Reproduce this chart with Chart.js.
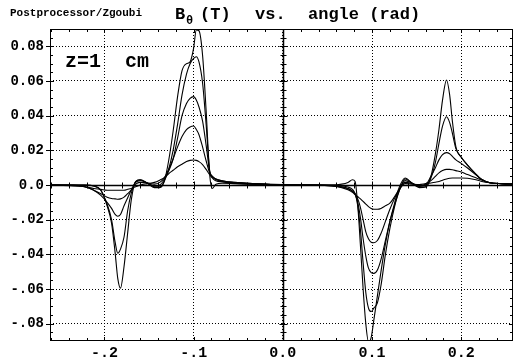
<!DOCTYPE html>
<html>
<head>
<meta charset="utf-8">
<script src="https://cdn.jsdelivr.net/npm/chart.js@4.4.1/dist/chart.umd.min.js"></script>
<style>
    html, body { margin: 0; padding: 0; background: #fff; }
</style>
</head>
<body>
<canvas id="bChart" width="515" height="362"></canvas>
<script>
const angle = [-0.26, -0.235, -0.222, -0.212, -0.204, -0.197, -0.192, -0.188, -0.185, -0.182,
    -0.178, -0.174, -0.17, -0.165, -0.16, -0.152, -0.144, -0.138, -0.133, -0.128,
    -0.123, -0.118, -0.113, -0.108, -0.104, -0.1, -0.097, -0.094, -0.09, -0.086,
    -0.082, -0.079, -0.075, -0.068, -0.055, -0.04, -0.02, 0, 0.03, 0.055,
    0.066, 0.073, 0.078, 0.081, 0.084, 0.087, 0.09, 0.093, 0.096, 0.099,
    0.102, 0.106, 0.11, 0.115, 0.12, 0.125, 0.13, 0.137, 0.145, 0.153,
    0.16, 0.166, 0.171, 0.175, 0.179, 0.1835, 0.187, 0.19, 0.194, 0.2,
    0.207, 0.215, 0.222, 0.232, 0.245, 0.26];

const curve1 = [0, 0, 0, -0.0005, -0.003, -0.012, -0.022, -0.039, -0.054, -0.0595,
    -0.047, -0.028, -0.009, 0.002, 0.003, 0.001, -0.0015, -0.0015, 0.002, 0.014,
    0.031, 0.051, 0.066, 0.070, 0.071, 0.079, 0.0895, 0.089, 0.075, 0.043,
    0.006, -0.002, 0.0005, 0.001, 0.0008, 0.0005, 0.0002, 0, 0, 0,
    0.0005, 0.0015, 0.003, 0.002, -0.012, -0.035, -0.060, -0.080, -0.0905, -0.088,
    -0.078, -0.064, -0.050, -0.034, -0.021, -0.011, -0.002, 0.004, 0.001, -0.0015,
    -0.0012, 0.005, 0.018, 0.032, 0.049, 0.0606, 0.052, 0.037, 0.022, 0.016,
    0.0115, 0.007, 0.0035, 0.0013, 0.0008, 0.0005];

const curve2 = [0, 0, 0, -0.0005, -0.003, -0.011, -0.020, -0.033, -0.0394, -0.037,
    -0.030, -0.015, -0.005, 0.002, 0.003, 0.0012, -0.001, -0.001, 0.002, 0.009,
    0.020, 0.035, 0.052, 0.064, 0.070, 0.073, 0.074, 0.071, 0.059, 0.035,
    0.008, 0.004, 0.0025, 0.0018, 0.001, 0.0006, 0.0003, 0, 0, 0,
    -0.0005, -0.0012, -0.0025, -0.005, -0.012, -0.026, -0.045, -0.062, -0.071, -0.073,
    -0.071, -0.068, -0.058, -0.040, -0.025, -0.013, -0.004, 0.0035, 0.001, -0.0012,
    -0.001, 0.004, 0.013, 0.024, 0.034, 0.0394, 0.036, 0.030, 0.021, 0.016,
    0.0115, 0.007, 0.0035, 0.0013, 0.0008, 0.0005];

const curve3 = [0, 0, -0.001, -0.003, -0.006, -0.010, -0.0135, -0.017, -0.018, -0.017,
    -0.012, -0.0075, -0.003, 0.0015, 0.0025, 0.0012, -0.0005, 0, 0.003, 0.008,
    0.015, 0.027, 0.040, 0.047, 0.050, 0.051, 0.049, 0.045, 0.037, 0.023,
    0.008, 0.005, 0.0035, 0.0025, 0.0015, 0.001, 0.0005, 0, 0, -0.0003,
    -0.001, -0.002, -0.0035, -0.0055, -0.010, -0.019, -0.031, -0.041, -0.048, -0.0505,
    -0.051, -0.049, -0.043, -0.032, -0.021, -0.012, -0.004, 0.0025, 0.001, -0.0008,
    0, 0.005, 0.010, 0.0145, 0.0175, 0.0187, 0.018, 0.0165, 0.0145, 0.0125,
    0.0098, 0.0065, 0.0035, 0.0013, 0.0008, 0.0005];

const curve4 = [0, -0.0003, -0.001, -0.003, -0.005, -0.007, -0.0078, -0.008, -0.0082, -0.008,
    -0.007, -0.005, -0.003, 0.0005, 0.0015, 0.0012, 0.0005, 0.0015, 0.004, 0.009,
    0.015, 0.022, 0.028, 0.032, 0.0335, 0.034, 0.032, 0.029, 0.022, 0.014,
    0.007, 0.005, 0.0035, 0.0025, 0.0015, 0.001, 0.0005, 0, 0, -0.0005,
    -0.0012, -0.0022, -0.0035, -0.005, -0.008, -0.013, -0.020, -0.027, -0.031, -0.033,
    -0.0333, -0.032, -0.028, -0.021, -0.014, -0.008, -0.003, 0.0015, 0.0008, -0.0003,
    0.0005, 0.0025, 0.005, 0.007, 0.0083, 0.009, 0.009, 0.0088, 0.0083, 0.0075,
    0.006, 0.0045, 0.003, 0.0013, 0.0008, 0.0005];

const curve5 = [0, -0.0005, -0.001, -0.002, -0.0025, -0.003, -0.003, -0.003, -0.003, -0.003,
    -0.003, -0.0025, -0.002, -0.001, 0, 0.0008, 0.0015, 0.0028, 0.0042, 0.0065,
    0.0085, 0.0105, 0.012, 0.0135, 0.0142, 0.0144, 0.0142, 0.0135, 0.0118, 0.009,
    0.006, 0.0045, 0.0032, 0.002, 0.0014, 0.001, 0.0005, 0.0002, 0, -0.0005,
    -0.0015, -0.0028, -0.0042, -0.0055, -0.0068, -0.008, -0.0095, -0.011, -0.0125, -0.0135,
    -0.014, -0.014, -0.0135, -0.012, -0.0105, -0.007, -0.003, 0.0008, 0.0005, 0.0003,
    0.0008, 0.0012, 0.0016, 0.002, 0.0028, 0.0035, 0.0039, 0.004, 0.004, 0.004,
    0.0039, 0.0032, 0.0022, 0.0013, 0.0008, 0.0005];

const xTicks = [-0.2, -0.1, 0, 0.1, 0.2];
const xTickLabels = ['-.2', '-.1', '0.0', '0.1', '0.2'];
const yTicks = [-0.08, -0.06, -0.04, -0.02, 0, 0.02, 0.04, 0.06, 0.08];
const yTickLabels = ['-.08', '-.06', '-.04', '-.02', '0.0', '0.02', '0.04', '0.06', '0.08'];

const mono = '"Liberation Mono", "DejaVu Sans Mono", monospace';
const curves = [curve1, curve2, curve3, curve4, curve5];

function line(ctx, x1, y1, x2, y2) {
    ctx.beginPath();
    ctx.moveTo(x1, y1);
    ctx.lineTo(x2, y2);
    ctx.stroke();
}

const frame = {
    id: 'frame',
    beforeDatasetsDraw(chart) {
        const { ctx, chartArea: a, scales: { x, y } } = chart;
        const x0 = Math.round(x.getPixelForValue(0)) + 0.5;
        const y0 = Math.round(y.getPixelForValue(0)) + 0.5;
        ctx.save();
        ctx.strokeStyle = '#000';
        ctx.lineWidth = 1.5;
        line(ctx, x0, a.top, x0, a.bottom);
        line(ctx, a.left, y0, a.right, y0);
        ctx.restore();
    },
    afterDatasetsDraw(chart) {
        const { ctx, chartArea: a, scales: { x, y } } = chart;
        const x0 = Math.round(x.getPixelForValue(0)) + 0.5;
        const y0 = Math.round(y.getPixelForValue(0)) + 0.5;
        ctx.save();
        ctx.strokeStyle = '#000';
        ctx.lineWidth = 1;
        ctx.strokeRect(a.left + 0.5, a.top + 0.5, a.width - 1, a.height - 1);

        for (let i = -18; i <= 18; i++) {
            const py = Math.round(y.getPixelForValue(i * 0.005)) + 0.5;
            if (py < a.top || py > a.bottom) continue;
            const len = i % 4 === 0 ? 4 : 3;
            line(ctx, a.left, py, a.left + len, py);
            line(ctx, a.right - len, py, a.right, py);
            line(ctx, x0 - len, py, x0 + len, py);
            if (i % 4 === 0) line(ctx, a.left - 4, py, a.left, py);
        }
        for (let i = -13; i <= 13; i++) {
            const px = Math.round(x.getPixelForValue(i * 0.02)) + 0.5;
            if (px < a.left || px > a.right) continue;
            const len = i % 5 === 0 ? 4 : 3;
            line(ctx, px, a.bottom - len, px, a.bottom);
            line(ctx, px, a.top, px, a.top + len);
            line(ctx, px, y0 - len, px, y0 + len);
        }
        ctx.restore();
    },
    afterDraw(chart) {
        const ctx = chart.ctx;
        ctx.save();
        ctx.fillStyle = '#000';
        ctx.textBaseline = 'middle';
        ctx.font = 'bold 11px ' + mono;
        ctx.fillText('Postprocessor/Zgoubi', 10, 13);

        ctx.font = 'bold 17px ' + mono;
        ctx.fillText('B', 175, 15);
        ctx.fillText('(T)', 200, 15);
        ctx.fillText('vs.', 255, 15);
        ctx.fillText('angle (rad)', 308, 15);
        ctx.font = 'bold 12px ' + mono;
        ctx.fillText('\u03b8', 186, 21);

        ctx.textBaseline = 'alphabetic';
        ctx.font = 'bold 20px ' + mono;
        ctx.fillText('z=1  cm', 65, 67);
        ctx.restore();
    }
};

const ctx = document.getElementById('bChart').getContext('2d');

new Chart(ctx, {
    type: 'line',
    data: {
        datasets: curves.map(function(values) {
            return {
                data: angle.map(function(a, i) { return { x: a, y: values[i] }; }),
                borderColor: '#000',
                borderWidth: 1.1,
                pointRadius: 0,
                fill: false,
                cubicInterpolationMode: 'monotone'
            };
        })
    },
    options: {
        responsive: false,
        animation: false,
        layout: { padding: { top: 29, right: 2, left: 0, bottom: 0 } },
        plugins: {
            legend: { display: false },
            tooltip: { enabled: false }
        },
        scales: {
            x: {
                type: 'linear',
                min: -0.261,
                max: 0.258,
                afterBuildTicks: function(axis) {
                    axis.ticks = xTicks.map(function(v) { return { value: v }; });
                },
                afterFit: function(axis) { axis.height = 21; },
                ticks: {
                    color: '#000',
                    padding: 3,
                    maxRotation: 0,
                    autoSkip: false,
                    font: { family: mono, size: 15, weight: 'bold' },
                    callback: function(value) {
                        const i = xTicks.findIndex(function(t) { return Math.abs(t - value) < 1e-9; });
                        return i >= 0 ? xTickLabels[i] : '';
                    }
                },
                grid: { color: '#000', lineWidth: 1, drawTicks: false },
                border: { display: false, dash: [1, 2] }
            },
            y: {
                min: -0.09,
                max: 0.09,
                afterBuildTicks: function(axis) {
                    axis.ticks = yTicks.map(function(v) { return { value: v }; });
                },
                afterFit: function(axis) { axis.width = 50; },
                ticks: {
                    color: '#000',
                    padding: 6,
                    autoSkip: false,
                    font: { family: mono, size: 14, weight: 'bold' },
                    callback: function(value) {
                        const i = yTicks.findIndex(function(t) { return Math.abs(t - value) < 1e-9; });
                        return i >= 0 ? yTickLabels[i] : '';
                    }
                },
                grid: { color: '#000', lineWidth: 1, drawTicks: false },
                border: { display: false, dash: [1, 2] }
            }
        }
    },
    plugins: [frame]
});
</script>
</body>
</html>
